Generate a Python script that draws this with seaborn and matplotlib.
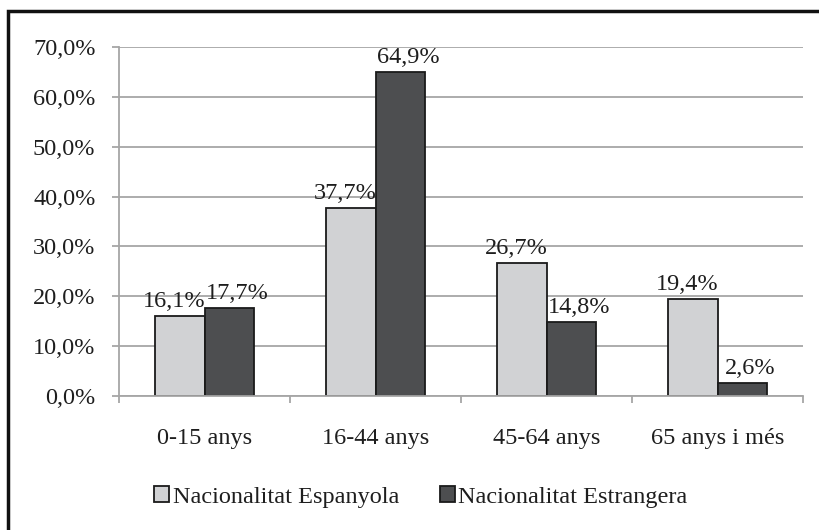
import matplotlib
matplotlib.use("Agg")
import matplotlib.pyplot as plt
import seaborn as sns
import pandas as pd
from matplotlib.patches import Rectangle, Patch
from matplotlib.ticker import MultipleLocator, FuncFormatter

categories = ["0-15 anys", "16-44 anys", "45-64 anys", "65 anys i més"]
series_names = ["Nacionalitat Espanyola", "Nacionalitat Estrangera"]
espanyola = [16.1, 37.7, 26.7, 19.4]
estrangera = [17.7, 64.9, 14.8, 2.6]
colors = ["#d1d2d4", "#4d4e50"]

df = pd.DataFrame({
    "cat": categories * 2,
    "serie": [series_names[0]] * 4 + [series_names[1]] * 4,
    "val": espanyola + estrangera,
})

sns.set_theme(style="white")
plt.rcParams["font.family"] = ["Liberation Serif", "DejaVu Serif"]
FS = 17.5
TXT = "#1e1e1e"

fig = plt.figure(figsize=(8.19, 5.30), dpi=100)
ax = fig.add_axes([119 / 819, 1 - 396 / 530, (803 - 119) / 819, (396 - 47) / 530])

sns.barplot(data=df, x="cat", y="val", hue="serie", palette=colors, width=0.575,
            edgecolor="#1a1a1a", linewidth=1.3, ax=ax, legend=False, saturation=1)

ax.set_ylim(0, 70)
ax.set_xlim(-0.5, 3.5)
ax.yaxis.set_major_locator(MultipleLocator(10))
ax.yaxis.set_major_formatter(FuncFormatter(lambda v, p: f"{v:.1f}%".replace(".", ",")))
ax.grid(axis="y", color="#a6a6a6", linewidth=1.3)
ax.set_axisbelow(True)
ax.set_xlabel("")
ax.set_ylabel("")
for s in ["top", "right"]:
    ax.spines[s].set_visible(False)
for s in ["left", "bottom"]:
    ax.spines[s].set_color("#a6a6a6")
    ax.spines[s].set_linewidth(1.3)

ax.tick_params(axis="y", which="major", length=5, width=1.3, color="#a6a6a6",
               pad=12, labelsize=FS, left=True, labelcolor=TXT)
ax.set_xticks(range(4))
ax.set_xticks([-0.5, 0.5, 1.5, 2.5, 3.5], minor=True)
ax.tick_params(axis="x", which="major", length=0, pad=23, labelsize=FS, labelcolor=TXT)
ax.tick_params(axis="x", which="minor", length=5, width=1.3, color="#a6a6a6", bottom=True)

shifts = [-4, 6]  # small horizontal nudges (points) so neighbouring labels don't collide
for cont, dx in zip(ax.containers, shifts):
    labels = [f"{v:.1f}%".replace(".", ",") for v in cont.datavalues]
    texts = ax.bar_label(cont, labels=labels, padding=3, fontsize=FS, color=TXT)
    for t in texts:
        ox, oy = t.xyann
        t.xyann = (ox + dx, oy)

handles = [Patch(facecolor=c, edgecolor="#1a1a1a", linewidth=1.3) for c in colors]
fig.legend(handles, series_names, loc="center", bbox_to_anchor=(421 / 819, 1 - 497 / 530),
           ncol=2, frameon=False, fontsize=FS, handlelength=0.6, handleheight=0.6,
           handletextpad=0.15, columnspacing=1.7, labelcolor=TXT)

fig.patches.append(Rectangle((8 / 819, -0.05), 1.1, 1.05 - 11 / 530,
                             transform=fig.transFigure, fill=False,
                             edgecolor="#111111", linewidth=2.5))

fig.savefig("out.png", dpi=100)
